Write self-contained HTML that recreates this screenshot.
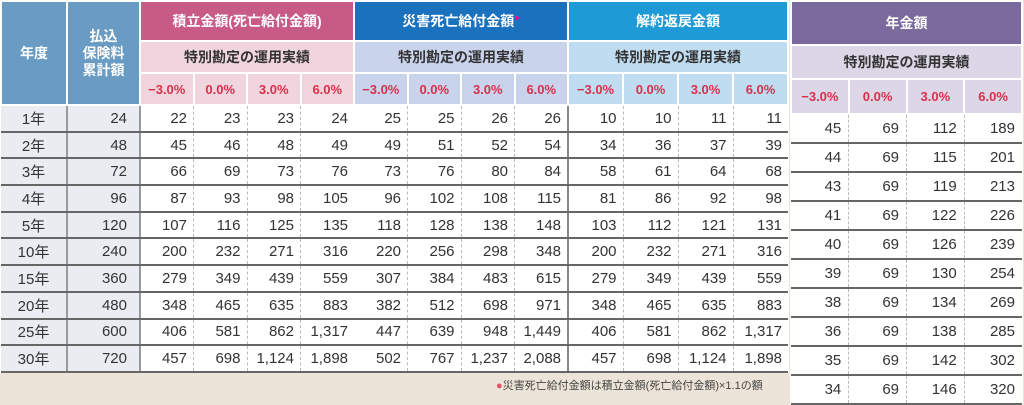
<!DOCTYPE html>
<html><head><meta charset="utf-8"><style>
body{margin:0;width:1024px;height:403px;overflow:hidden;background:#ece4d8;font-family:"Liberation Sans","Noto Sans CJK JP",sans-serif;color:#333;position:relative}
table{border-collapse:collapse;table-layout:fixed;position:absolute;top:0}
td{padding:0;text-align:center;white-space:nowrap}
.h{color:#fff;font-weight:bold;font-size:14px}
.s{font-weight:bold;font-size:14px;color:#333}
.p{color:#d9304a;font-weight:bold;font-size:13px}
#L{left:0;width:789px;background:#fff}
#L .hr td{border:2px solid #fff}
#L tbody td{height:24.7px;border-bottom:2px solid #666;font-size:15px;text-align:right;padding-right:6px;border-left:1px dashed #bbb}
#L tbody td.y{background:#e9edf1;border-left:none;border-right:2px solid #999;padding:0;text-align:center}
#L tbody td.k{background:#e9edf1;border-left:none;border-right:2px solid #999;padding-right:12px}
#L tbody td.g{border-left:2px solid #888}
#R{left:790px;width:233px;background:#fff}
#R .hr td{border:2px solid #fff}
#R tbody td{height:27px;border-bottom:2px solid #666;font-size:15px;text-align:right;padding-right:7px;border-left:1px dashed #bbb}
#R tbody td.f{border-left:none}
.note{position:absolute;left:496px;top:377px;font-size:11px;color:#444}
.note b{color:#e5506a}
</style></head><body>
<table id="L">
<colgroup><col style="width:66px"><col style="width:73px"><col span="4" style="width:53.5px"><col span="4" style="width:53.5px"><col span="4" style="width:55px"></colgroup>
<thead>
<tr class="hr" style="height:40px"><td rowspan="3" class="h" style="background:#6a9bc3">年度</td><td rowspan="3" class="h" style="background:#6a9bc3;line-height:17px">払込<br>保険料<br>累計額</td>
<td colspan="4" class="h" style="background:#c85a86">積立金額(死亡給付金額)</td><td colspan="4" class="h" style="background:#1a72bf">災害死亡給付金額<sup style="color:#f08;font-size:9px">●</sup></td><td colspan="4" class="h" style="background:#1e9bd7">解約返戻金額</td></tr>
<tr class="hr" style="height:32px"><td colspan="4" class="s" style="background:#f0d5df">特別勘定の運用実績</td><td colspan="4" class="s" style="background:#c9d3ec">特別勘定の運用実績</td><td colspan="4" class="s" style="background:#bfdcf1">特別勘定の運用実績</td></tr>
<tr class="hr" style="height:32px">
<td class="p" style="background:#f0d5df">−3.0%</td><td class="p" style="background:#f0d5df">0.0%</td><td class="p" style="background:#f0d5df">3.0%</td><td class="p" style="background:#f0d5df">6.0%</td>
<td class="p" style="background:#c9d3ec">−3.0%</td><td class="p" style="background:#c9d3ec">0.0%</td><td class="p" style="background:#c9d3ec">3.0%</td><td class="p" style="background:#c9d3ec">6.0%</td>
<td class="p" style="background:#bfdcf1">−3.0%</td><td class="p" style="background:#bfdcf1">0.0%</td><td class="p" style="background:#bfdcf1">3.0%</td><td class="p" style="background:#bfdcf1">6.0%</td></tr>
</thead>
<tbody>
<tr><td class="y">1年</td><td class="k">24</td><td style="border-left:none">22</td><td>23</td><td>23</td><td>24</td><td style="border-left:none">25</td><td>25</td><td>26</td><td>26</td><td class="g">10</td><td>10</td><td>11</td><td>11</td></tr>
<tr><td class="y">2年</td><td class="k">48</td><td style="border-left:none">45</td><td>46</td><td>48</td><td>49</td><td style="border-left:none">49</td><td>51</td><td>52</td><td>54</td><td class="g">34</td><td>36</td><td>37</td><td>39</td></tr>
<tr><td class="y">3年</td><td class="k">72</td><td style="border-left:none">66</td><td>69</td><td>73</td><td>76</td><td style="border-left:none">73</td><td>76</td><td>80</td><td>84</td><td class="g">58</td><td>61</td><td>64</td><td>68</td></tr>
<tr><td class="y">4年</td><td class="k">96</td><td style="border-left:none">87</td><td>93</td><td>98</td><td>105</td><td style="border-left:none">96</td><td>102</td><td>108</td><td>115</td><td class="g">81</td><td>86</td><td>92</td><td>98</td></tr>
<tr><td class="y">5年</td><td class="k">120</td><td style="border-left:none">107</td><td>116</td><td>125</td><td>135</td><td style="border-left:none">118</td><td>128</td><td>138</td><td>148</td><td class="g">103</td><td>112</td><td>121</td><td>131</td></tr>
<tr><td class="y">10年</td><td class="k">240</td><td style="border-left:none">200</td><td>232</td><td>271</td><td>316</td><td style="border-left:none">220</td><td>256</td><td>298</td><td>348</td><td class="g">200</td><td>232</td><td>271</td><td>316</td></tr>
<tr><td class="y">15年</td><td class="k">360</td><td style="border-left:none">279</td><td>349</td><td>439</td><td>559</td><td style="border-left:none">307</td><td>384</td><td>483</td><td>615</td><td class="g">279</td><td>349</td><td>439</td><td>559</td></tr>
<tr><td class="y">20年</td><td class="k">480</td><td style="border-left:none">348</td><td>465</td><td>635</td><td>883</td><td style="border-left:none">382</td><td>512</td><td>698</td><td>971</td><td class="g">348</td><td>465</td><td>635</td><td>883</td></tr>
<tr><td class="y">25年</td><td class="k">600</td><td style="border-left:none">406</td><td>581</td><td>862</td><td>1,317</td><td style="border-left:none">447</td><td>639</td><td>948</td><td>1,449</td><td class="g">406</td><td>581</td><td>862</td><td>1,317</td></tr>
<tr><td class="y">30年</td><td class="k">720</td><td style="border-left:none">457</td><td>698</td><td>1,124</td><td>1,898</td><td style="border-left:none">502</td><td>767</td><td>1,237</td><td>2,088</td><td class="g">457</td><td>698</td><td>1,124</td><td>1,898</td></tr>
</tbody></table>
<div class="note"><b>●</b>災害死亡給付金額は積立金額(死亡給付金額)×1.1の額</div>
<table id="R">
<thead>
<tr class="hr" style="height:44px"><td colspan="4" class="h" style="background:#7b6a9e">年金額</td></tr>
<tr class="hr" style="height:34px"><td colspan="4" class="s" style="background:#dcd6e6">特別勘定の運用実績</td></tr>
<tr class="hr" style="height:35px"><td class="p" style="background:#dcd6e6">−3.0%</td><td class="p" style="background:#dcd6e6">0.0%</td><td class="p" style="background:#dcd6e6">3.0%</td><td class="p" style="background:#dcd6e6">6.0%</td></tr>
</thead>
<tbody>
<tr><td class="f">45</td><td>69</td><td>112</td><td>189</td></tr>
<tr><td class="f">44</td><td>69</td><td>115</td><td>201</td></tr>
<tr><td class="f">43</td><td>69</td><td>119</td><td>213</td></tr>
<tr><td class="f">41</td><td>69</td><td>122</td><td>226</td></tr>
<tr><td class="f">40</td><td>69</td><td>126</td><td>239</td></tr>
<tr><td class="f">39</td><td>69</td><td>130</td><td>254</td></tr>
<tr><td class="f">38</td><td>69</td><td>134</td><td>269</td></tr>
<tr><td class="f">36</td><td>69</td><td>138</td><td>285</td></tr>
<tr><td class="f">35</td><td>69</td><td>142</td><td>302</td></tr>
<tr><td class="f">34</td><td>69</td><td>146</td><td>320</td></tr>
</tbody></table>
</body></html>
